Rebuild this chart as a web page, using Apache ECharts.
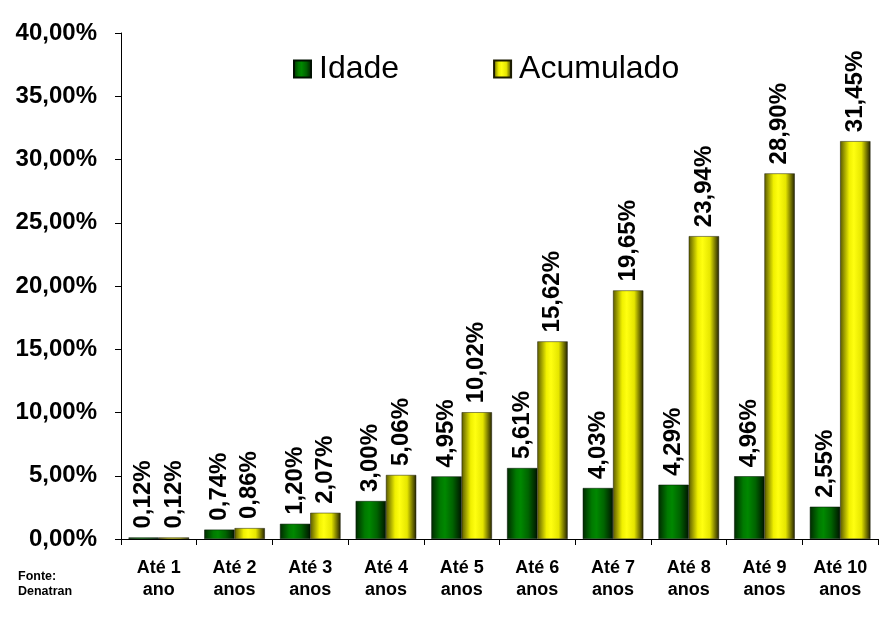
<!DOCTYPE html>
<html>
<head>
<meta charset="utf-8">
<script src="https://cdn.jsdelivr.net/npm/echarts@6/dist/echarts.min.js"></script>
<style>
html,body{margin:0;padding:0;background:#fff;}
#c{width:896px;height:618px;}
</style>
</head>
<body>
<div id="c"></div>
<script>
const categories = ['Até 1\nano','Até 2\nanos','Até 3\nanos','Até 4\nanos','Até 5\nanos','Até 6\nanos','Até 7\nanos','Até 8\nanos','Até 9\nanos','Até 10\nanos'];
const idade = [0.12, 0.74, 1.20, 3.00, 4.95, 5.61, 4.03, 4.29, 4.96, 2.55];
const acumulado = [0.12, 0.86, 2.07, 5.06, 10.02, 15.62, 19.65, 23.94, 28.90, 31.45];
const seriesNames = ['Idade', 'Acumulado'];
const yMin = 0, yMax = 40, yStep = 5;

const FONT = 'Arial, "Liberation Sans", sans-serif';
const fmt = v => v.toFixed(2).replace('.', ',') + '%';

function grad(stops){
  return new echarts.graphic.LinearGradient(0,0,1,0, stops.map(s=>({offset:s[0], color:s[1]})));
}
const greenGrad = grad([[0,'#002a00'],[0.3,'#007a00'],[0.45,'#008800'],[0.7,'#006400'],[1,'#001400']]);
const yellowGrad = grad([[0,'#5a5a00'],[0.3,'#f0f000'],[0.45,'#ffff10'],[0.7,'#e6e600'],[1,'#222200']]);

const label = {
  show: true,
  position: 'top',
  rotate: 90,
  align: 'left',
  verticalAlign: 'middle',
  distance: 9,
  formatter: p => fmt(p.value),
  fontFamily: FONT,
  fontWeight: 'bold',
  fontSize: 24,
  color: '#000'
};

const chart = echarts.init(document.getElementById('c'), null, {renderer:'canvas'});
chart.setOption({
  animation: false,
  backgroundColor: '#fff',
  grid: {left: 121, right: 18, top: 33, bottom: 79},
  legend: {
    data: seriesNames.map(n => ({name: n, icon: 'rect'})),
    left: 293, top: 53,
    padding: 0,
    itemWidth: 17, itemHeight: 17, itemGap: 94,
    textStyle: {fontFamily: FONT, fontSize: 32, color: '#000', padding: [0,0,0,3]}
  },
  xAxis: {
    type: 'category',
    data: categories,
    axisLine: {lineStyle: {color: '#000', width: 1}},
    axisTick: {show: true, length: 6, lineStyle: {color: '#000'}},
    axisLabel: {fontFamily: FONT, fontWeight: 'bold', fontSize: 18, color: '#000', lineHeight: 22, margin: 18, interval: 0}
  },
  yAxis: {
    type: 'value',
    min: yMin, max: yMax, interval: yStep,
    splitLine: {show: false},
    axisLine: {show: true, lineStyle: {color: '#000', width: 1}},
    axisTick: {show: true, length: 6, lineStyle: {color: '#000'}},
    axisLabel: {fontFamily: FONT, fontWeight: 'bold', fontSize: 24, color: '#000', margin: 24, formatter: v => fmt(v)}
  },
  series: [
    {name: seriesNames[0], type: 'bar', data: idade, barGap: '0%', barCategoryGap: '20%',
     itemStyle: {color: greenGrad, borderColor: '#001000', borderWidth: 0.5}, label: label},
    {name: seriesNames[1], type: 'bar', data: acumulado,
     itemStyle: {color: yellowGrad, borderColor: '#1a1a00', borderWidth: 0.5}, label: label}
  ],
  graphic: [{
    type: 'text', left: 18, top: 569,
    style: {text: 'Fonte:\nDenatran', fontFamily: FONT, fontWeight: 'bold', fontSize: 12.5, lineHeight: 15, fill: '#000'}
  }]
});
</script>
</body>
</html>
